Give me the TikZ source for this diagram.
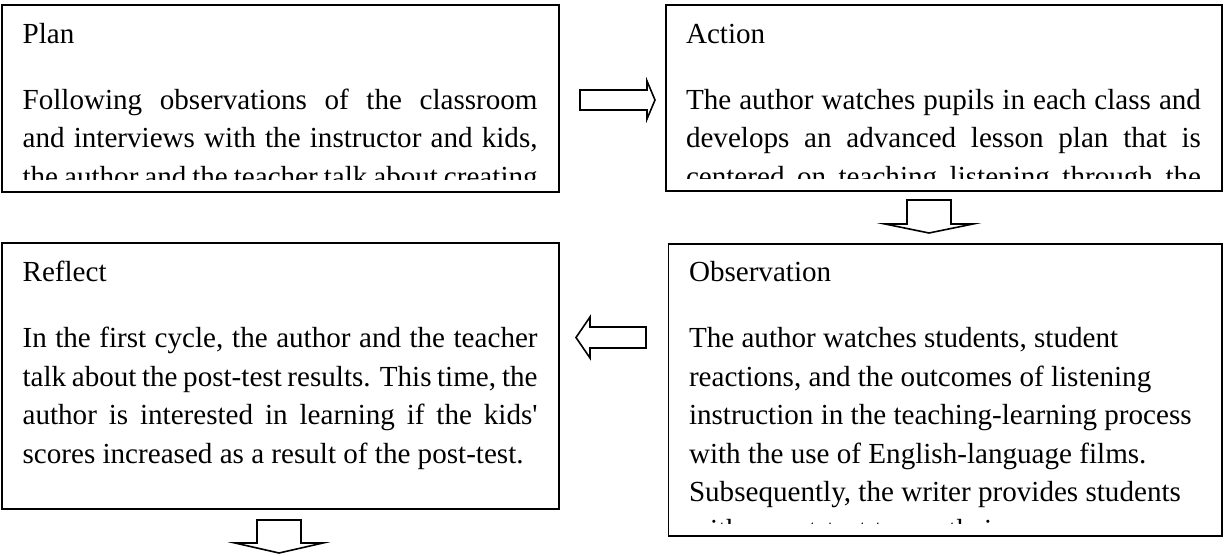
\documentclass[tikz,border=0pt]{standalone}
\usepackage{fontspec}
\setmainfont{Liberation Serif}
\newcommand{\jl}[1]{\hbox to 515pt{#1}}
\newcommand{\nl}[1]{\hbox{#1}}
\tikzset{
  box/.style={draw, line width=1.6pt, anchor=north west, inner sep=0pt, outer sep=0pt},
  blockarrow/.style={draw, line width=1.6pt, fill=white},
  txt/.style={anchor=base west, inner sep=0pt, outer sep=0pt, font=\fontsize{29.1}{38.4}\selectfont},
}
\begin{document}
\begin{tikzpicture}[x=1pt, y=-1pt]
\useasboundingbox (0,0) rectangle (1224,556);
% boxes
\node[box, minimum width=557pt, minimum height=187pt] (plan) at (2,5) {};
\node[box, minimum width=556pt, minimum height=186pt] (action) at (666,5) {};
\node[box, minimum width=557pt, minimum height=266pt] (reflect) at (2,243) {};
\node[box, minimum width=553.5pt, minimum height=292pt] (obs) at (668.5,244) {};
% texts
\begin{scope}
\clip (2,5) rectangle (559,180);
\node[txt] (planT) at (22.6,43.5) {\parbox[t]{515pt}{Plan\par\vspace{27.6pt}%
\jl{Following observations of the classroom}%
\jl{and interviews with the instructor and kids,}%
\jl{the author and the teacher talk about creating}}};
\end{scope}
\begin{scope}
\clip (666,5) rectangle (1222,179);
\node[txt] (actionT) at (686,43.5) {\parbox[t]{516pt}{Action\par\vspace{27.6pt}%
\jl{The author watches pupils in each class and}%
\jl{develops an advanced lesson plan that is}%
\jl{centered on teaching listening through the}}};
\end{scope}
\node[txt] (reflectT) at (22.6,282) {\parbox[t]{515pt}{Reflect\par\vspace{27.6pt}%
\jl{In the first cycle, the author and the teacher}%
\jl{talk about the post-test results. This time, the}%
\jl{author is interested in learning if the kids\textquotesingle}%
\nl{scores increased as a result of the post-test.}}};
\begin{scope}
\clip (668.5,244) rectangle (1222,523);
\node[txt] (obsT) at (689,282) {\parbox[t]{516pt}{Observation\par\vspace{27.6pt}%
\nl{The author watches students, student}%
\nl{reactions, and the outcomes of listening}%
\nl{instruction in the teaching-learning process}%
\nl{with the use of English-language films.}%
\nl{Subsequently, the writer provides students}%
\nl{with a post-test to see their progress.}}};
\end{scope}
% block arrows
\draw[blockarrow] (580,90) -- (647,90) -- (647,81) -- (655,100) -- (647,119) -- (647,110) -- (580,110) -- cycle;
\draw[blockarrow] (907,200) -- (951,200) -- (951,224) -- (973,224) -- (929,233) -- (885,224) -- (907,224) -- cycle;
\draw[blockarrow] (646,327) -- (590,327) -- (590,317) -- (576,337.5) -- (590,358) -- (590,348) -- (646,348) -- cycle;
\draw[blockarrow] (257,520) -- (301,520) -- (301,543) -- (323,543) -- (279,553) -- (235,543) -- (257,543) -- cycle;
\end{tikzpicture}
\end{document}
